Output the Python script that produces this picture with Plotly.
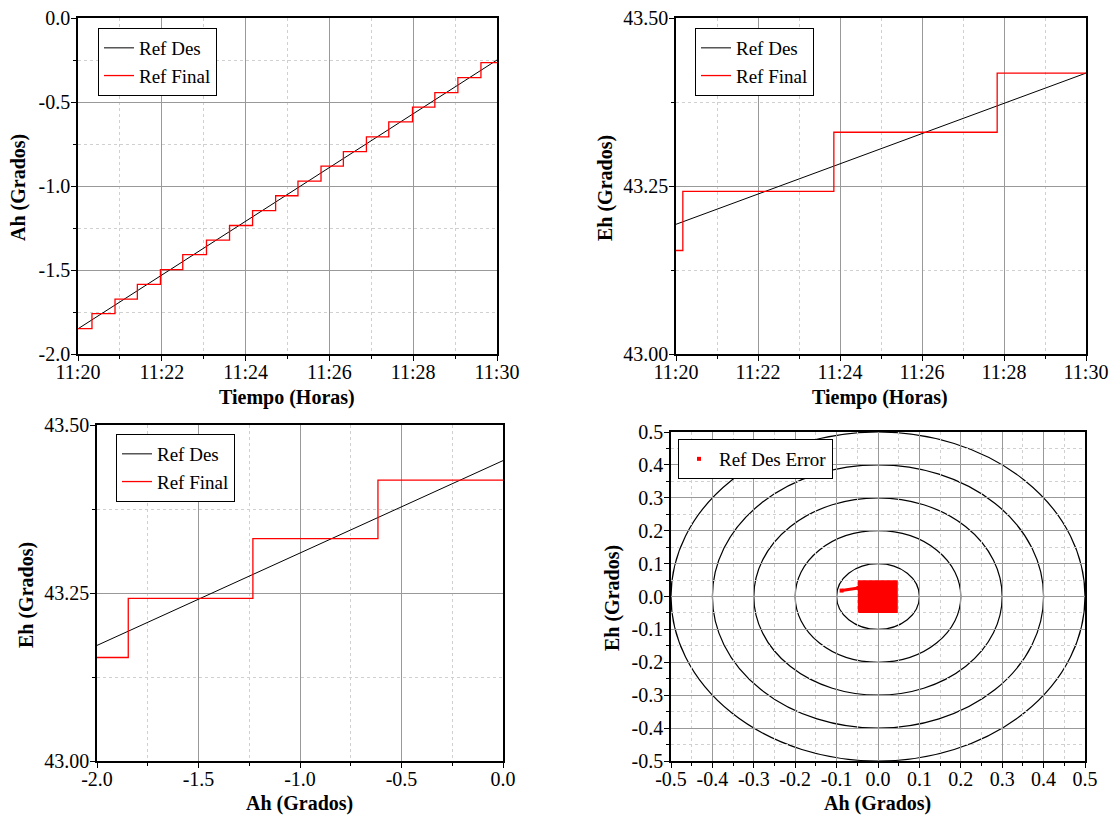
import plotly.graph_objects as go

# ---------------- data ----------------
DAY = "2020-01-01 "
# Panel 1: Ah vs time
ah_des_t = ["11:20:00", "11:30:00"]
ah_des_v = [-1.85, -0.25]
ah_fin_t = ["11:20:00", "11:20:20", "11:20:53", "11:21:25", "11:21:58", "11:22:30",
            "11:23:04", "11:23:37", "11:24:10", "11:24:43", "11:25:15", "11:25:48",
            "11:26:20", "11:26:53", "11:27:25", "11:27:59", "11:28:31", "11:29:04",
            "11:29:37", "11:30:00"]
ah_fin_v = [-1.849, -1.760, -1.673, -1.585, -1.498, -1.409, -1.322, -1.235, -1.146,
            -1.058, -0.971, -0.882, -0.795, -0.708, -0.618, -0.531, -0.444, -0.355,
            -0.266, -0.266]
# Panel 2: Eh vs time
eh_des_t = ["11:20:00", "11:30:00"]
eh_des_v = [43.193, 43.418]
eh_fin_t = ["11:20:00", "11:20:10", "11:23:51", "11:27:50", "11:30:00"]
eh_fin_v = [43.154, 43.242, 43.330, 43.418, 43.418]
# Panel 3: Eh vs Ah
pa_des_x = [-2.0, 0.0]
pa_des_y = [43.172, 43.447]
pa_fin_x = [-2.0, -1.846, -1.232, -0.616, 0.0]
pa_fin_y = [43.154, 43.242, 43.331, 43.418, 43.418]
# Panel 4: error cloud
ring_radii = [0.1, 0.2, 0.3, 0.4, 0.5]
cloud_x = [-0.047, 0.046, 0.046, -0.047, -0.047]
cloud_y = [-0.048, -0.048, 0.047, 0.047, -0.048]
tail_x = [-0.088, -0.047]
tail_y = [0.018, 0.026]

# tick labels
ah_tickvals = [-2.0, -1.5, -1.0, -0.5, 0.0]
ah_ticktext = ["-2.0", "-1.5", "-1.0", "-0.5", "0.0"]
eh_tickvals = [43.0, 43.25, 43.5]
eh_ticktext = ["43.00", "43.25", "43.50"]
err_tickvals = [-0.5, -0.4, -0.3, -0.2, -0.1, 0.0, 0.1, 0.2, 0.3, 0.4, 0.5]
err_ticktext = ["-0.5", "-0.4", "-0.3", "-0.2", "-0.1", "0.0", "0.1", "0.2", "0.3", "0.4", "0.5"]

# ---------------- style ----------------
FONT = "Liberation Serif"
TICKF = dict(family=FONT, size=20, color="black")
TITLEF = dict(family=FONT, size=20, color="black")
W, H = 1111, 815

def px(x):
    return x / W

def py(y):
    return 1 - y / H

fig = go.Figure()

def tstamp(lst):
    return [DAY + t for t in lst]

fig.add_trace(go.Scatter(x=tstamp(ah_des_t), y=ah_des_v, mode="lines", name="Ref Des",
                         line=dict(color="black", width=1), xaxis="x", yaxis="y", legend="legend"))
fig.add_trace(go.Scatter(x=tstamp(ah_fin_t), y=ah_fin_v, mode="lines", name="Ref Final",
                         line=dict(color="red", width=1.3, shape="hv"), xaxis="x", yaxis="y", legend="legend"))

fig.add_trace(go.Scatter(x=tstamp(eh_des_t), y=eh_des_v, mode="lines", name="Ref Des",
                         line=dict(color="black", width=1), xaxis="x2", yaxis="y2", legend="legend2"))
fig.add_trace(go.Scatter(x=tstamp(eh_fin_t), y=eh_fin_v, mode="lines", name="Ref Final",
                         line=dict(color="red", width=1.3, shape="hv"), xaxis="x2", yaxis="y2", legend="legend2"))

fig.add_trace(go.Scatter(x=pa_des_x, y=pa_des_y, mode="lines", name="Ref Des",
                         line=dict(color="black", width=1), xaxis="x3", yaxis="y3", legend="legend3"))
fig.add_trace(go.Scatter(x=pa_fin_x, y=pa_fin_y, mode="lines", name="Ref Final",
                         line=dict(color="red", width=1.3, shape="hv"), xaxis="x3", yaxis="y3", legend="legend3"))

fig.add_trace(go.Scatter(x=cloud_x, y=cloud_y, mode="lines", fill="toself", fillcolor="red",
                         line=dict(color="red", width=1.5), showlegend=False,
                         xaxis="x4", yaxis="y4"))
fig.add_trace(go.Scatter(x=tail_x, y=tail_y, mode="lines", showlegend=False,
                         line=dict(color="red", width=3), xaxis="x4", yaxis="y4"))
fig.add_trace(go.Scatter(x=tail_x, y=tail_y, mode="markers", name="Ref Des Error",
                         marker=dict(color="red", size=4, symbol="square"),
                         xaxis="x4", yaxis="y4", legend="legend4"))

for r in ring_radii:
    fig.add_shape(type="circle", xref="x4", yref="y4", x0=-r, x1=r, y0=-r, y1=r,
                  line=dict(color="black", width=1.2), layer="below")

GRID = "#999999"
MINGRID = "#d0d0d0"

def axis(domain, anchor, minor_dtick, minor_tick0, standoff, **kw):
    d = dict(domain=domain, anchor=anchor, showline=True, linecolor="black", linewidth=1.5,
             mirror=True, ticks="outside", ticklen=5, tickwidth=1, tickcolor="black",
             showgrid=True, gridcolor=GRID, gridwidth=1, zeroline=False,
             automargin=False, tickfont=TICKF, ticklabelstandoff=standoff,
             minor=dict(dtick=minor_dtick, tick0=minor_tick0, ticks="outside", ticklen=3,
                        tickcolor="black", showgrid=True, gridcolor=MINGRID, griddash="dot",
                        gridwidth=1))
    d.update(kw)
    return d

tr = [DAY + "11:20:00", DAY + "11:30:00"]
t0 = DAY + "11:20:00"
x1d = [px(78), px(497)]
x2d = [px(676), px(1086)]
x3d = [px(97), px(503)]
x4d = [px(671), px(1085)]
ytop = [py(354), py(18)]
ybot3 = [py(761), py(425)]
ybot4 = [py(761), py(432)]

XS, YS = -6, -3

fig.update_layout(
    width=W, height=H, margin=dict(l=0, r=0, t=0, b=0),
    paper_bgcolor="white", plot_bgcolor="white",
    font=dict(family=FONT, color="black", size=20),
    xaxis=axis(x1d, "y", 60000, t0, XS, type="date", range=tr, tick0=t0, dtick=120000, tickformat="%H:%M"),
    yaxis=axis(ytop, "x", 0.25, 0, YS, range=[-2.0, 0.0], tickmode="array",
               tickvals=ah_tickvals, ticktext=ah_ticktext),
    xaxis2=axis(x2d, "y2", 60000, t0, XS, type="date", range=tr, tick0=t0, dtick=120000, tickformat="%H:%M"),
    yaxis2=axis(ytop, "x2", 0.125, 43.0, YS, range=[43.0, 43.5], tickmode="array",
                tickvals=eh_tickvals, ticktext=eh_ticktext),
    xaxis3=axis(x3d, "y3", 0.25, 0, XS, range=[-2.0, 0.0], tickmode="array",
                tickvals=ah_tickvals, ticktext=ah_ticktext),
    yaxis3=axis(ybot3, "x3", 0.125, 43.0, YS, range=[43.0, 43.5], tickmode="array",
                tickvals=eh_tickvals, ticktext=eh_ticktext),
    xaxis4=axis(x4d, "y4", 0.05, 0, XS, range=[-0.5, 0.5], tickmode="array",
                tickvals=err_tickvals, ticktext=err_ticktext),
    yaxis4=axis(ybot4, "x4", 0.05, 0, YS, range=[-0.5, 0.5], tickmode="array",
                tickvals=err_tickvals, ticktext=err_ticktext),
)

def legend(x, y):
    return dict(x=px(x), y=py(y), xanchor="left", yanchor="top", bgcolor="white",
                bordercolor="black", borderwidth=1, font=dict(family=FONT, size=19, color="black"),
                tracegroupgap=0, itemwidth=30)

fig.update_layout(legend=legend(98, 28), legend2=legend(695, 28),
                  legend3=legend(116, 434), legend4=legend(678, 439))

titles = [
    ("Ah (Grados)", 18, 188, -90), ("Tiempo (Horas)", 287, 397, 0),
    ("Eh (Grados)", 605, 188, -90), ("Tiempo (Horas)", 880, 397, 0),
    ("Eh (Grados)", 26, 595, -90), ("Ah (Grados)", 299, 803, 0),
    ("Eh (Grados)", 612, 598, -90), ("Ah (Grados)", 877, 803, 0),
]
for text, x, y, ang in titles:
    fig.add_annotation(text="<b>%s</b>" % text, x=px(x), y=py(y), xref="paper", yref="paper",
                       showarrow=False, textangle=ang, font=TITLEF, xanchor="center", yanchor="middle")

fig.write_html("out.html", config={"displayModeBar": False},
               post_script="document.body.style.margin='0';document.body.style.padding='0';")
